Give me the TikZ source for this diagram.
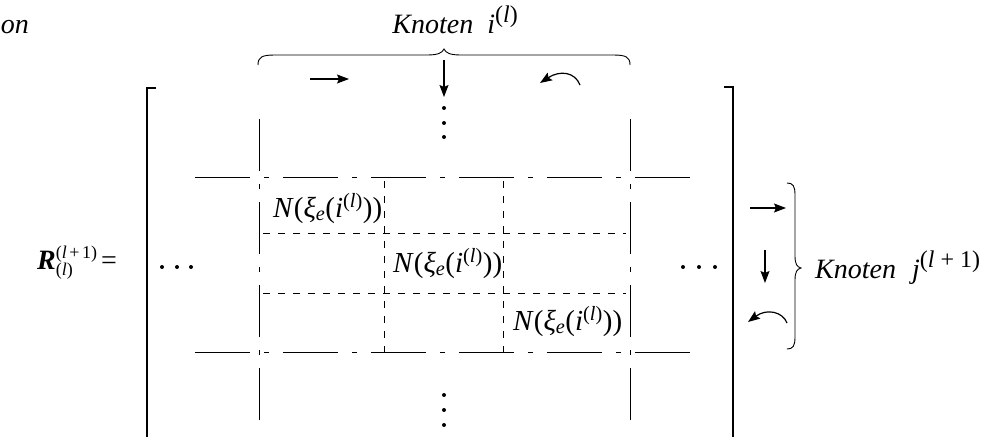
\documentclass[tikz,border=0pt]{standalone}
\usepackage{amsmath}
\usepackage{fontspec}
\setmainfont{Liberation Serif}
\usetikzlibrary{arrows.meta}
\newcommand\Nlab{\textit{N}(\textit{ξ}$_{\text{\textit{e}}}$(\textit{i}$^{\text{(\textit{l})}}$))}
\newcommand\supx[1]{\raisebox{0.38em}{\fontsize{24}{24}\selectfont #1}}
\newcommand\pl{\hspace{6pt}+\hspace{6pt}}
\begin{document}
\begin{tikzpicture}[x=1pt,y=-1pt,
  mline/.style={line width=0.9pt, dash pattern=on 55pt off 14pt on 5pt off 14pt},
  vline/.style={line width=0.9pt, dash pattern=on 52pt off 13pt on 5pt off 13pt},
  dline/.style={line width=0.7pt, dash pattern=on 7pt off 8pt},
  brk/.style={line width=1.1pt},
  brc/.style={line width=0.9pt},
  arr/.style={line width=1.2pt, -{Stealth[length=12pt,width=9pt,inset=2pt]}},
  lbl/.style={inner sep=0pt, font=\fontsize{28}{34}\selectfont},
  nlbl/.style={inner sep=0pt, font=\fontsize{29}{34}\selectfont},
  dotc/.style={fill=black, circle, inner sep=0pt, minimum size=4pt}]
\useasboundingbox (0,0) rectangle (994,437);
% texts
\node[lbl, anchor=base east] (on) at (29,33) {\textit{on}};
\node[lbl, anchor=base east] (ki) at (518,33) {\textit{Knoten}\hspace{14pt}\textit{i}\supx{(\textit{l})}};
\node[lbl, anchor=base west] (kj) at (815,278) {\textit{Knoten}\hspace{16pt}\textit{j}\supx{(\textit{l}\pl1)}};
\node[lbl, anchor=base west] (R) at (37,269) {\textbf{\textit{R}}\rlap{\raisebox{11pt}{\fontsize{18}{18}\selectfont(\textit{l}\hspace{2.5pt}+\hspace{2.5pt}1)}}\raisebox{-6pt}{\fontsize{18}{18}\selectfont(\textit{l})}};
\node[lbl, anchor=base] (eq) at (109,269) {=};
\node[nlbl, anchor=base west] (n1) at (273,217) {\Nlab};
\node[nlbl, anchor=base west] (n2) at (393,272) {\Nlab};
\node[nlbl, anchor=base west] (n3) at (513,330) {\Nlab};
% brackets
\coordinate (bl1) at (156,88); \coordinate (bl2) at (147,88); \coordinate (bl3) at (147,437);
\coordinate (br1) at (724,87); \coordinate (br2) at (733,87); \coordinate (br3) at (733,437);
\draw[brk] (bl1) -- (bl2) -- (bl3);
\draw[brk] (br1) -- (br2) -- (br3);
% matrix lines
\coordinate (h1a) at (195,177); \coordinate (h1b) at (690,177);
\coordinate (h2a) at (195,352); \coordinate (h2b) at (690,352);
\draw[mline] (h1a) -- (h1b);
\draw[mline] (h2a) -- (h2b);
\coordinate (v1a) at (259,420); \coordinate (v1b) at (259,118);
\coordinate (v2a) at (630,420); \coordinate (v2b) at (630,118);
\draw[vline] (v1a) -- (v1b);
\draw[vline] (v2a) -- (v2b);
\coordinate (d1a) at (263,233); \coordinate (d1b) at (626,233);
\coordinate (d2a) at (263,293); \coordinate (d2b) at (626,293);
\coordinate (d3a) at (384,181); \coordinate (d3b) at (384,352);
\coordinate (d4a) at (503,181); \coordinate (d4b) at (503,352);
\draw[dline] (d1a) -- (d1b);
\draw[dline] (d2a) -- (d2b);
\draw[dline] (d3a) -- (d3b);
\draw[dline] (d4a) -- (d4b);
% dots
\foreach \n/\x/\y in {t1/444/108,t2/444/123,t3/444/137,b1/444/395,b2/444/410,b3/444/425,l1/162/267,l2/177/267,l3/191/267,r1/683/267,r2/699/267,r3/715/267}
  \node[dotc] (dot\n) at (\x,\y) {};
% top brace
\draw[brc] (258,65) .. controls (258,57) and (262,55) .. (275,55) -- (427,55)
  .. controls (438,55) and (442,53) .. (444,49) .. controls (446,53) and (450,55) .. (461,55)
  -- (613,55) .. controls (626,55) and (630,57) .. (630,65);
% right brace
\draw[brc] (787,183) .. controls (793,183) and (795,186) .. (795,195) -- (795,256)
  .. controls (795,264) and (797,267) .. (801,268) .. controls (797,269) and (795,272) .. (795,280)
  -- (795,337) .. controls (795,346) and (793,349) .. (787,349);
% arrows top
\coordinate (a1s) at (310,79); \coordinate (a1e) at (349,79);
\coordinate (a2s) at (444,60); \coordinate (a2e) at (444,97);
\coordinate (a3s) at (580,85); \coordinate (a3e) at (540,83);
\draw[arr] (a1s) -- (a1e);
\draw[arr] (a2s) -- (a2e);
\draw[arr] (a3s) .. controls (575,72) and (560,70) .. (a3e);
% arrows right
\coordinate (b1s) at (750,208); \coordinate (b1e) at (786,208);
\coordinate (b2s) at (765,250); \coordinate (b2e) at (765,283);
\coordinate (b3s) at (787,323); \coordinate (b3e) at (748,322);
\draw[arr] (b1s) -- (b1e);
\draw[arr] (b2s) -- (b2e);
\draw[arr] (b3s) .. controls (783,312) and (767,308) .. (b3e);
\end{tikzpicture}
\end{document}
